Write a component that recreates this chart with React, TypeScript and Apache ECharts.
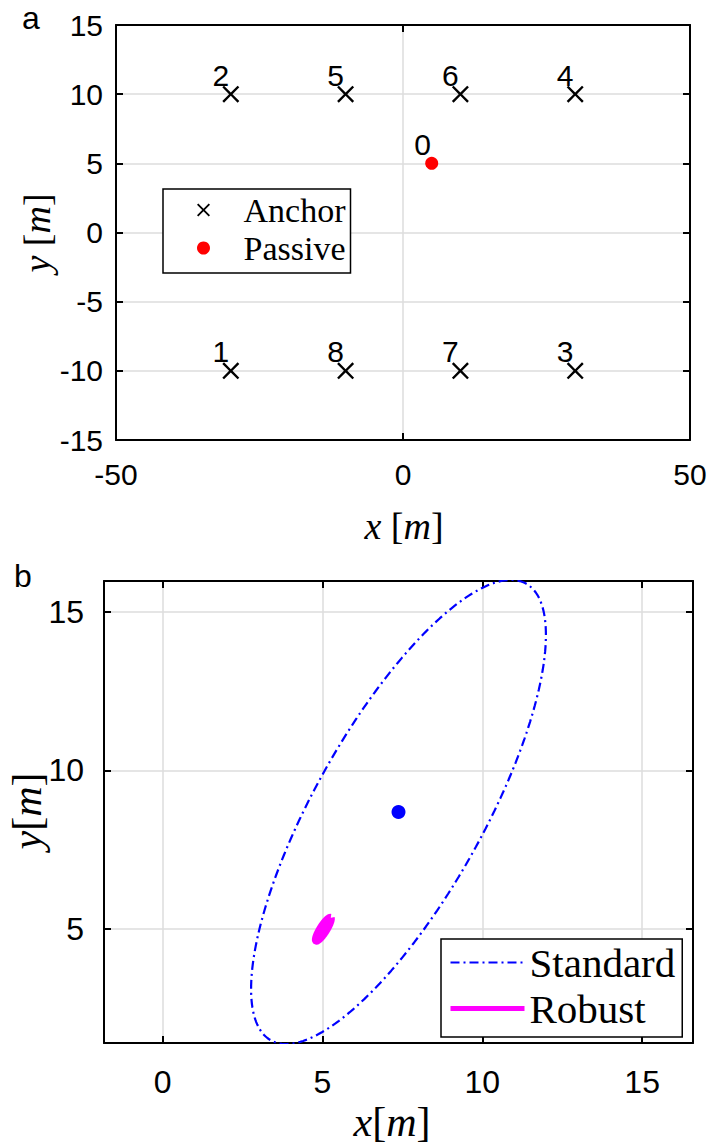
import React, { useEffect, useRef } from "react";
import * as echarts from "echarts";

// ---------- data (panel a) ----------
const anchorIds = ["1", "2", "3", "4", "5", "6", "7", "8"];
const anchorX = [-30, -30, 30, 30, -10, 10, 10, -10];
const anchorY = [-10, 10, -10, 10, 10, 10, -10, -10];
const passiveIds = ["0"];
const passiveX = [5];
const passiveY = [5];
const topXRange = [-50, 50];
const topXInterval = 50;
const topYRange = [-15, 15];
const topYInterval = 5;

// ---------- data (panel b) ----------
const standardCenter = [7.38, 8.69];
const standardSemiAxes = [8.22, 2.65];
const standardAngleDeg = 61;
const robustCenter = [5.03, 5.0];
const robustSemiAxes = [0.44, 0.105];
const robustAngleDeg = 58;
const bottomXRange = [-1.83, 16.59];
const bottomYRange = [1.42, 15.96];

const SANS = "'Liberation Sans', Arial, Helvetica, sans-serif";
const SERIF = "'Liberation Serif', 'Times New Roman', serif";
const GRID_COLOR = "#dcdcdc";
const X_SYMBOL =
  "path://M0,1L1,0L5,4L9,0L10,1L6,5L10,9L9,10L5,6L1,10L0,9L4,5Z";

function ellipse(center: number[], semi: number[], deg: number, n = 241) {
  const th = (deg * Math.PI) / 180;
  const pts: number[][] = [];
  for (let i = 0; i < n; i++) {
    const t = (2 * Math.PI * i) / (n - 1);
    const u = semi[0] * Math.cos(t);
    const v = semi[1] * Math.sin(t);
    pts.push([
      center[0] + u * Math.cos(th) - v * Math.sin(th),
      center[1] + u * Math.sin(th) + v * Math.cos(th),
    ]);
  }
  return pts;
}

const mult5 = (v: number) =>
  Math.abs(v / 5 - Math.round(v / 5)) < 1e-6 ? String(Math.round(v)) : "";

function baseAxis(extra: any) {
  return {
    type: "value",
    axisLine: { show: true, onZero: false, lineStyle: { color: "#000", width: 2 } },
    axisTick: { show: true, inside: true, length: 7, lineStyle: { color: "#000", width: 2 } },
    splitLine: { show: false },
    ...extra,
  };
}

export default function App() {
  const ref = useRef<HTMLDivElement>(null);

  useEffect(() => {
    if (!ref.current) return;
    const chart = echarts.init(ref.current, undefined, { renderer: "svg" });

    const labelFontTop = { fontFamily: SANS, fontSize: 30, color: "#000" };
    const labelFontBottom = { fontFamily: SANS, fontSize: 32, color: "#000" };

    const option: any = {
      animation: false,
      backgroundColor: "#fff",
      grid: [
        { left: 116, top: 25, width: 574, height: 415, containLabel: false },
        { left: 104, top: 581, width: 589, height: 462, containLabel: false },
      ],
      xAxis: [
        baseAxis({
          gridIndex: 0,
          position: "bottom",
          min: topXRange[0],
          max: topXRange[1],
          interval: topXInterval,
          axisLabel: { ...labelFontTop, margin: 19 },
          splitLine: { show: true, lineStyle: { color: GRID_COLOR, width: 1.5 } },
        }),
        baseAxis({
          gridIndex: 0,
          position: "top",
          min: topXRange[0],
          max: topXRange[1],
          interval: topXInterval,
          axisLabel: { show: false },
        }),
        baseAxis({
          gridIndex: 1,
          position: "bottom",
          min: bottomXRange[0],
          max: bottomXRange[1],
          splitNumber: 4,
          axisLabel: { ...labelFontBottom, margin: 23, formatter: mult5, showMinLabel: false, showMaxLabel: false },
          splitLine: { show: true, lineStyle: { color: GRID_COLOR, width: 1.5 } },
        }),
        baseAxis({
          gridIndex: 1,
          position: "top",
          min: bottomXRange[0],
          max: bottomXRange[1],
          splitNumber: 4,
          axisLabel: { show: false },
        }),
      ],
      yAxis: [
        baseAxis({
          gridIndex: 0,
          position: "left",
          min: topYRange[0],
          max: topYRange[1],
          interval: topYInterval,
          axisLabel: { ...labelFontTop, margin: 13 },
          splitLine: { show: true, lineStyle: { color: GRID_COLOR, width: 1.5 } },
        }),
        baseAxis({
          gridIndex: 0,
          position: "right",
          min: topYRange[0],
          max: topYRange[1],
          interval: topYInterval,
          axisLabel: { show: false },
        }),
        baseAxis({
          gridIndex: 1,
          position: "left",
          min: bottomYRange[0],
          max: bottomYRange[1],
          splitNumber: 3,
          axisLabel: { ...labelFontBottom, margin: 20, formatter: mult5, showMinLabel: false, showMaxLabel: false },
          splitLine: { show: true, lineStyle: { color: GRID_COLOR, width: 1.5 } },
        }),
        baseAxis({
          gridIndex: 1,
          position: "right",
          min: bottomYRange[0],
          max: bottomYRange[1],
          splitNumber: 3,
          axisLabel: { show: false },
        }),
      ],
      legend: [
        {
          data: ["Anchor", "Passive"],
          orient: "vertical",
          left: 163,
          top: 189,
          itemWidth: 70,
          itemHeight: 13,
          itemGap: 4,
          padding: [4, 5, 8, 34],
          borderColor: "#000",
          borderWidth: 1.5,
          borderRadius: 0,
          backgroundColor: "#fff",
          selectedMode: false,
          itemStyle: { opacity: 1 },
          textStyle: { fontFamily: SERIF, fontSize: 34, lineHeight: 34, color: "#000" },
        },
        {
          data: [
            { name: "Standard", lineStyle: { width: 2 }, itemStyle: { opacity: 0 } },
            { name: "Robust", lineStyle: { width: 5 }, itemStyle: { opacity: 0 } },
          ],
          orient: "vertical",
          left: 441,
          top: 939,
          itemWidth: 74,
          itemHeight: 16,
          itemGap: 5,
          padding: [3, 7, 8, 7],
          borderColor: "#000",
          borderWidth: 1.5,
          borderRadius: 0,
          backgroundColor: "#fff",
          selectedMode: false,
          itemStyle: { opacity: 0 },
          textStyle: { fontFamily: SERIF, fontSize: 41, lineHeight: 40, color: "#000" },
        },
      ],
      series: [
        {
          name: "Anchor",
          type: "scatter",
          xAxisIndex: 0,
          yAxisIndex: 0,
          symbol: X_SYMBOL,
          symbolSize: 17,
          itemStyle: { color: "#000", opacity: 1 },
          label: {
            show: true,
            formatter: "{b}",
            position: "inside",
            offset: [-10, -19],
            fontFamily: SANS,
            fontSize: 30,
            color: "#000",
          },
          data: anchorIds.map((id, i) => ({ name: id, value: [anchorX[i], anchorY[i]] })),
        },
        {
          name: "Passive",
          type: "scatter",
          xAxisIndex: 0,
          yAxisIndex: 0,
          symbol: "circle",
          symbolSize: 13,
          itemStyle: { color: "#ff0000", opacity: 1 },
          label: {
            show: true,
            formatter: "{b}",
            position: "inside",
            offset: [-9, -19],
            fontFamily: SANS,
            fontSize: 30,
            color: "#000",
          },
          data: passiveIds.map((id, i) => ({ name: id, value: [passiveX[i], passiveY[i]] })),
        },
        {
          name: "Standard",
          type: "line",
          xAxisIndex: 2,
          yAxisIndex: 2,
          symbol: "none",
          showSymbol: false,
          clip: true,
          lineStyle: { color: "#0000ff", width: 2.2, type: [9, 4, 2, 4] },
          itemStyle: { color: "#0000ff" },
          data: ellipse(standardCenter, standardSemiAxes, standardAngleDeg),
        },
        {
          name: "Robust",
          type: "line",
          xAxisIndex: 2,
          yAxisIndex: 2,
          symbol: "none",
          showSymbol: false,
          lineStyle: { color: "#ff00ff", width: 7 },
          itemStyle: { color: "#ff00ff" },
          data: ellipse(robustCenter, robustSemiAxes, robustAngleDeg),
        },
        {
          name: "Standard estimate",
          type: "scatter",
          xAxisIndex: 2,
          yAxisIndex: 2,
          symbol: "circle",
          symbolSize: 14,
          itemStyle: { color: "#0000ff", opacity: 1 },
          data: [standardCenter],
        },
      ],
      graphic: [
        {
          type: "text",
          x: 31,
          y: 18,
          style: { text: "a", font: `32px ${SANS}`, fill: "#000", align: "center", verticalAlign: "middle" },
        },
        {
          type: "text",
          x: 23,
          y: 576,
          style: { text: "b", font: `32px ${SANS}`, fill: "#000", align: "center", verticalAlign: "middle" },
        },
        {
          type: "text",
          x: 404,
          y: 526,
          style: {
            text: "{i|x} [{i|m}]",
            align: "center",
            verticalAlign: "middle",
            fontFamily: SERIF,
            fontSize: 38,
            fill: "#000",
            rich: { i: { fontStyle: "italic", fontFamily: SERIF, fontSize: 38 } },
          },
        },
        {
          type: "text",
          x: 37,
          y: 233,
          rotation: Math.PI / 2,
          style: {
            text: "{i|y} [{i|m}]",
            align: "center",
            verticalAlign: "middle",
            fontFamily: SERIF,
            fontSize: 38,
            fill: "#000",
            rich: { i: { fontStyle: "italic", fontFamily: SERIF, fontSize: 38 } },
          },
        },
        {
          type: "text",
          x: 392,
          y: 1122,
          style: {
            text: "{i|x}[{i|m}]",
            align: "center",
            verticalAlign: "middle",
            fontFamily: SERIF,
            fontSize: 42,
            fill: "#000",
            rich: { i: { fontStyle: "italic", fontFamily: SERIF, fontSize: 42 } },
          },
        },
        {
          type: "text",
          x: 27,
          y: 811,
          rotation: Math.PI / 2,
          style: {
            text: "{i|y}[{i|m}]",
            align: "center",
            verticalAlign: "middle",
            fontFamily: SERIF,
            fontSize: 42,
            fill: "#000",
            rich: { i: { fontStyle: "italic", fontFamily: SERIF, fontSize: 42 } },
          },
        },
      ],
    };

    chart.setOption(option);
    return () => chart.dispose();
  }, []);

  return (
    <div
      ref={ref}
      style={{ position: "absolute", left: 0, top: 0, width: 712, height: 1148, background: "#fff" }}
    />
  );
}
